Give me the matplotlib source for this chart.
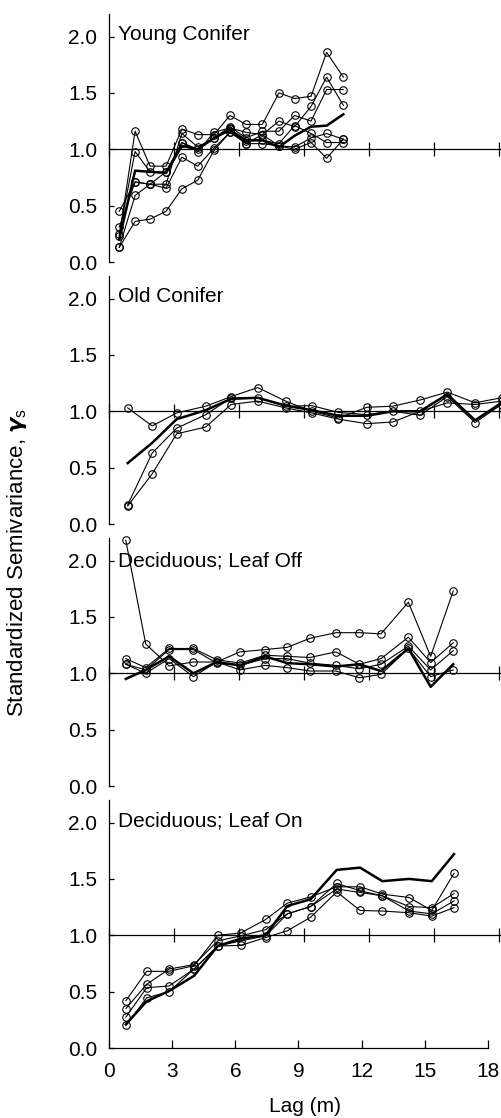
import matplotlib
matplotlib.use("Agg")
import matplotlib.pyplot as plt
import matplotlib.transforms as mtransforms

plt.rcParams["font.family"] = ["Liberation Sans", "DejaVu Sans"]
plt.rcParams["font.size"] = 15
plt.rcParams["mathtext.fontset"] = "custom"
plt.rcParams["mathtext.rm"] = "Liberation Sans"
plt.rcParams["mathtext.bf"] = "Liberation Sans:bold"

# ---- data ----
panel_names = ["Young Conifer", "Old Conifer", "Deciduous; Leaf Off", "Deciduous; Leaf On"]

young_lag = [0.46, 1.19, 1.88, 2.62, 3.35, 4.08, 4.83, 5.57, 6.31, 7.06, 7.83, 8.55, 9.31, 10.03, 10.80]
young_series = [
    [0.23, 1.16, 0.85, 0.85, 1.18, 1.13, 1.13, 1.30, 1.22, 1.22, 1.50, 1.45, 1.47, 1.86, 1.64],
    [0.25, 0.98, 0.80, 0.80, 1.06, 0.98, 1.15, 1.19, 1.15, 1.13, 1.25, 1.20, 1.38, 1.64, 1.39],
    [0.31, 0.71, 0.69, 0.69, 1.14, 1.02, 1.10, 1.20, 1.10, 1.16, 1.16, 1.30, 1.25, 1.53, 1.53],
    [0.45, 0.71, 0.69, 0.80, 1.06, 1.00, 1.10, 1.18, 1.05, 1.13, 1.03, 1.02, 1.10, 1.14, 1.09],
    [0.13, 0.59, 0.69, 0.655, 0.93, 0.85, 1.01, 1.15, 1.07, 1.08, 1.05, 1.21, 1.14, 1.06, 1.06],
    [0.13, 0.36, 0.38, 0.45, 0.65, 0.725, 0.99, 1.15, 1.05, 1.05, 1.03, 1.00, 1.06, 0.92, 1.09],
]
young_mean = [0.20, 0.81, 0.80, 0.79, 1.03, 1.00, 1.10, 1.17, 1.08, 1.08, 1.02, 1.12, 1.20, 1.21, 1.31]

old_lag = [0.85, 1.98, 3.11, 4.45, 5.62, 6.85, 8.14, 9.34, 10.57, 11.88, 13.08, 14.34, 15.60, 16.88, 18.10]
old_series = [
    [1.03, 0.87, 0.985, 1.045, 1.13, 1.21, 1.09, 1.00, 0.94, 1.035, 1.045, 1.10, 1.17, 1.075, 1.12],
    [0.17, 0.63, 0.85, 0.97, 1.12, 1.12, 1.045, 1.05, 0.99, 0.97, 1.00, 0.965, 1.13, 0.90, 1.06],
    [0.16, 0.445, 0.80, 0.86, 1.06, 1.09, 1.03, 0.985, 0.93, 0.89, 0.905, 1.00, 1.075, 1.06, 1.09],
]
old_mean = [0.54, 0.72, 0.93, 1.01, 1.11, 1.12, 1.05, 1.01, 0.96, 0.96, 1.00, 1.00, 1.15, 0.92, 1.075]

leafoff_lag = [0.76, 1.68, 2.76, 3.88, 4.96, 6.03, 7.19, 8.21, 9.26, 10.45, 11.54, 12.54, 13.80, 14.83, 15.87]
leafoff_series = [
    [2.18, 1.26, 1.065, 1.10, 1.10, 1.19, 1.21, 1.23, 1.31, 1.36, 1.36, 1.35, 1.63, 1.15, 1.73],
    [1.13, 1.05, 1.22, 1.22, 1.12, 1.09, 1.16, 1.15, 1.14, 1.19, 1.08, 1.13, 1.32, 1.095, 1.27],
    [1.08, 1.03, 1.21, 1.21, 1.09, 1.07, 1.13, 1.13, 1.09, 1.07, 1.04, 1.08, 1.24, 1.03, 1.20],
    [1.08, 1.00, 1.13, 0.97, 1.10, 1.03, 1.07, 1.05, 1.02, 1.02, 0.96, 0.99, 1.22, 0.97, 1.03],
]
leafoff_mean = [0.95, 1.03, 1.15, 1.00, 1.10, 1.07, 1.15, 1.09, 1.08, 1.06, 1.08, 1.02, 1.22, 0.88, 1.08]

leafon_lag = [0.79, 1.78, 2.84, 4.03, 5.16, 6.25, 7.44, 8.47, 9.58, 10.82, 11.93, 12.99, 14.26, 15.34, 16.40]
leafon_series = [
    [0.42, 0.68, 0.68, 0.73, 1.00, 1.02, 1.14, 1.285, 1.34, 1.43, 1.43, 1.365, 1.335, 1.22, 1.55],
    [0.35, 0.565, 0.70, 0.74, 0.95, 0.995, 1.05, 1.19, 1.255, 1.46, 1.395, 1.35, 1.255, 1.245, 1.37],
    [0.275, 0.535, 0.55, 0.70, 0.905, 0.95, 0.995, 1.19, 1.255, 1.41, 1.38, 1.35, 1.215, 1.19, 1.305],
    [0.20, 0.445, 0.50, 0.70, 0.905, 0.91, 0.98, 1.04, 1.16, 1.385, 1.22, 1.215, 1.20, 1.17, 1.245],
]
leafon_mean = [0.21, 0.415, 0.505, 0.64, 0.905, 0.97, 1.00, 1.26, 1.32, 1.58, 1.60, 1.48, 1.50, 1.48, 1.72]

y_ticks = [0.0, 0.5, 1.0, 1.5, 2.0]
x_ticks = [0, 3, 6, 9, 12, 15, 18]

panels = [
    (young_lag, young_series, young_mean),
    (old_lag, old_series, old_mean),
    (leafoff_lag, leafoff_series, leafoff_mean),
    (leafon_lag, leafon_series, leafon_mean),
]

# ---- layout in pixels ----
W, H = 501, 1118
x0_px, x1_px = 109.3, 500.5
px_top_scale = 21.67     # px per m on the reference line at 1.0
px_bot_scale = 21.02     # px per m on the bottom axis
bottoms_px = [262, 524, 786, 1048]
height_px = 248
title_y = [1.965, 1.97, 1.95, 1.965]

fig = plt.figure(figsize=(W / 100, H / 100), dpi=100)

for i, (lag, series, mean) in enumerate(panels):
    ax = fig.add_axes([x0_px / W, 1 - bottoms_px[i] / H,
                       (x1_px - x0_px) / W, height_px / H])
    for s in series:
        ax.plot(lag, s, color="black", lw=0.8, marker="o", ms=5.4,
                mfc="none", mew=0.8, clip_on=False)
    ax.plot(lag, mean, color="black", lw=1.8, clip_on=False)

    ax.set_ylim(0, 2.2)
    ax.set_yticks(y_ticks)
    ax.set_yticklabels(["%.1f" % v for v in y_ticks])
    ax.tick_params(axis="y", direction="in", length=3.5, width=0.9, pad=8.5)
    ax.spines["top"].set_visible(False)
    ax.spines["right"].set_visible(False)
    ax.spines["left"].set_linewidth(0.9)

    last = i == len(panels) - 1
    if not last:
        # the reference line at 1.0 carries the tick marks
        ax.set_xlim(0, (x1_px - x0_px) / px_top_scale)
        ax.spines["bottom"].set_position(("data", 1.0))
        ax.spines["bottom"].set_linewidth(0.9)
        ax.set_xticks(x_ticks)
        ax.tick_params(axis="x", direction="inout", length=10, width=0.9,
                       labelbottom=False)
    else:
        ax.set_xlim(0, (x1_px - x0_px) / px_bot_scale)
        ax.spines["bottom"].set_bounds(0, 18)
        ax.spines["bottom"].set_linewidth(0.9)
        ax.set_xticks(x_ticks)
        ax.set_xticklabels([str(t) for t in x_ticks])
        ax.tick_params(axis="x", direction="in", length=5.5, width=0.9, pad=10)
        k = px_bot_scale / px_top_scale
        sec = ax.secondary_xaxis(1.0 / 2.2, functions=(lambda x: x * k, lambda s: s / k))
        sec.set_xticks(x_ticks)
        sec.tick_params(direction="inout", length=10, width=0.9,
                        labelbottom=False, labeltop=False)
        for sp in sec.spines.values():
            sp.set_linewidth(0.9)

    trans = mtransforms.blended_transform_factory(ax.transAxes, ax.transData)
    ax.text(0.022, title_y[i], panel_names[i], transform=trans,
            ha="left", va="baseline")

fig.text(17 / W, 0.497, r"Standardized Semivariance, $\boldsymbol{\gamma}_{\mathrm{s}}$",
         rotation=90, ha="center", va="center", fontsize=16)
fig.text((x0_px + x1_px) / 2 / W, 0.0105, "Lag (m)", ha="center", va="center")

fig.savefig("out.png", dpi=100)
